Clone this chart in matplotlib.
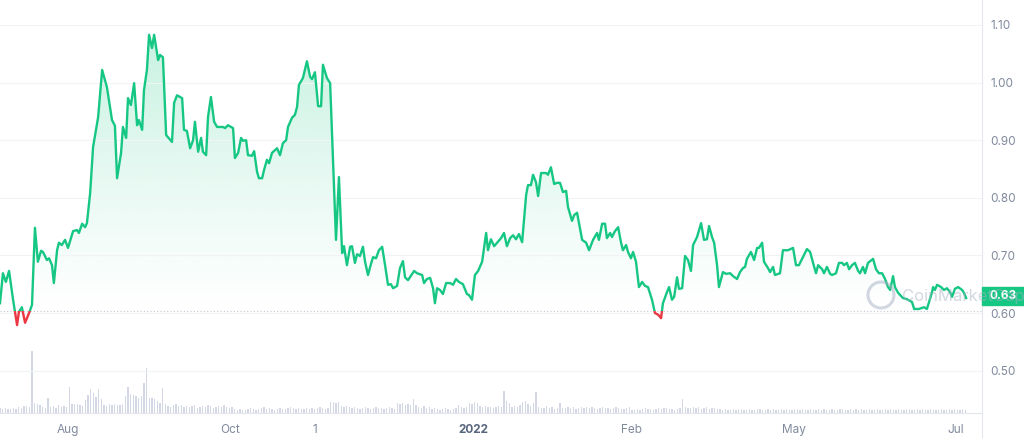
import numpy as np
import matplotlib.pyplot as plt
from matplotlib.patches import Rectangle, Ellipse
from matplotlib.lines import Line2D
from matplotlib.path import Path

plt.rcParams['font.family'] = ['Inter', 'DejaVu Sans']

# price trace (days since start of the 1y window, USD)
days = [0, 1.1, 2.2, 3.4, 4.9, 6.4, 7.1, 8.2, 9.4, 10.9, 12.0, 13.1, 14.2, 15.4, 16.1,
        17.6, 18.4, 19.5, 20.2, 21.4, 22.1, 23.2, 24.4, 25.5, 27.4, 28.9, 29.6, 30.8,
        31.9, 32.6, 33.8, 34.9, 36.8, 38.3, 40.1, 42.0, 43.1, 43.9, 45.4, 46.1, 47.3,
        48.0, 49.1, 50.3, 51.4, 52.1, 53.3, 54.0, 55.1, 55.9, 57.0, 57.8, 59.3, 60.0,
        61.1, 62.3, 64.5, 65.3, 66.4, 68.3, 69.0, 70.1, 71.3, 72.4, 73.1, 74.3, 75.4,
        76.1, 77.3, 78.0, 79.1, 80.3, 81.4, 83.6, 84.4, 85.5, 87.4, 88.1, 89.3, 90.4,
        91.1, 92.3, 93.0, 94.5, 95.3, 96.4, 97.1, 98.3, 99.0, 100.1, 100.9, 102.0,
        103.9, 105.0, 106.1, 107.3, 108.0, 109.5, 110.6, 111.4, 112.1, 113.6, 115.1,
        116.3, 117.0, 118.1, 119.3, 120.4, 121.1, 122.6, 123.8, 126.0, 127.1, 128.3,
        129.0, 130.1, 131.3, 132.0, 133.1, 133.9, 135.0, 136.1, 136.9, 138.0, 139.1,
        139.9, 141.0, 142.1, 143.3, 144.4, 145.5, 146.6, 147.4, 148.9, 150.0, 151.1,
        151.9, 153.0, 155.3, 156.4, 158.3, 159.0, 160.1, 161.3, 162.4, 163.1, 163.9,
        165.0, 166.1, 167.3, 168.8, 169.9, 171.0, 172.1, 173.6, 175.1, 175.9, 177.0,
        178.1, 179.3, 180.8, 182.3, 183.0, 184.1, 185.3, 186.4, 187.9, 189.0, 190.1,
        191.3, 192.4, 193.5, 194.6, 195.8, 197.3, 198.0, 199.1, 199.9, 201.0, 201.8,
        202.9, 204.8, 205.5, 206.6, 207.8, 208.9, 210.0, 211.1, 212.3, 213.0, 214.5,
        215.3, 216.4, 218.3, 219.8, 220.9, 222.4, 223.9, 224.6, 225.8, 226.9, 227.6,
        228.8, 229.5, 230.6, 231.8, 232.9, 233.6, 234.8, 235.5, 236.6, 237.4, 238.5,
        239.6, 240.8, 241.9, 243.0, 244.5, 245.6, 246.8, 247.9, 248.6, 250.1, 250.9,
        252.0, 252.8, 253.9, 254.6, 255.8, 256.9, 258.0, 259.1, 259.9, 261.4, 262.9,
        264.0, 265.1, 265.9, 267.0, 267.8, 268.9, 269.6, 271.1, 272.3, 273.8, 274.9,
        276.4, 277.5, 278.6, 279.4, 280.1, 281.6, 282.8, 283.9, 284.6, 285.8, 286.5,
        288.0, 288.8, 289.9, 290.6, 292.5, 293.6, 295.5, 297.4, 298.5, 299.6, 301.1,
        302.6, 303.8, 304.9, 306.0, 306.8, 308.3, 309.0, 310.1, 311.3, 312.0, 313.5,
        314.6, 315.8, 316.5, 317.6, 318.4, 319.5, 320.6, 321.8, 322.5, 323.6, 324.4,
        325.5, 327.4, 328.5, 329.6, 330.8, 331.9, 333.0, 333.8, 334.9, 335.6, 336.8,
        338.6, 340.1, 342.0, 342.8, 344.6, 346.5, 347.6, 348.4, 349.5, 349.9, 350.6,
        351.4, 352.9, 354.0, 355.1, 356.3, 357.0, 358.1, 359.3, 360.8, 361.5, 362.3]

prices = [0.617, 0.669, 0.654, 0.673, 0.623, 0.579, 0.602, 0.610, 0.583, 0.600, 0.614,
          0.748, 0.689, 0.708, 0.706, 0.692, 0.695, 0.683, 0.652, 0.709, 0.722, 0.718,
          0.727, 0.713, 0.742, 0.744, 0.739, 0.755, 0.749, 0.756, 0.808, 0.888, 0.940,
          1.022, 0.992, 0.935, 0.925, 0.834, 0.878, 0.923, 0.904, 0.973, 0.961, 0.999,
          0.926, 0.935, 0.918, 0.987, 1.022, 1.083, 1.060, 1.083, 1.039, 1.048, 1.044,
          0.909, 0.897, 0.965, 0.978, 0.973, 0.918, 0.916, 0.886, 0.900, 0.932, 0.880,
          0.904, 0.880, 0.874, 0.940, 0.975, 0.932, 0.923, 0.923, 0.921, 0.926, 0.921,
          0.869, 0.878, 0.904, 0.899, 0.900, 0.874, 0.873, 0.881, 0.845, 0.834, 0.834,
          0.848, 0.866, 0.860, 0.878, 0.886, 0.874, 0.895, 0.900, 0.923, 0.939, 0.944,
          0.958, 0.996, 1.008, 1.037, 1.010, 1.006, 1.018, 0.959, 0.959, 1.031, 1.008,
          0.999, 0.727, 0.836, 0.704, 0.716, 0.683, 0.715, 0.716, 0.687, 0.702, 0.699,
          0.715, 0.689, 0.666, 0.685, 0.697, 0.695, 0.709, 0.715, 0.683, 0.649, 0.650,
          0.643, 0.647, 0.678, 0.690, 0.662, 0.657, 0.673, 0.669, 0.666, 0.652, 0.659,
          0.661, 0.643, 0.617, 0.643, 0.640, 0.633, 0.652, 0.652, 0.649, 0.659, 0.654,
          0.650, 0.633, 0.631, 0.623, 0.666, 0.673, 0.689, 0.739, 0.709, 0.728, 0.716,
          0.722, 0.730, 0.739, 0.716, 0.730, 0.735, 0.728, 0.737, 0.723, 0.805, 0.822,
          0.822, 0.840, 0.827, 0.803, 0.843, 0.843, 0.840, 0.853, 0.824, 0.826, 0.826,
          0.810, 0.812, 0.784, 0.760, 0.770, 0.774, 0.727, 0.722, 0.709, 0.727, 0.739,
          0.727, 0.755, 0.755, 0.730, 0.739, 0.732, 0.742, 0.749, 0.722, 0.709, 0.718,
          0.706, 0.695, 0.706, 0.689, 0.645, 0.654, 0.647, 0.645, 0.623, 0.600, 0.597,
          0.591, 0.617, 0.636, 0.645, 0.623, 0.628, 0.662, 0.642, 0.643, 0.699, 0.692,
          0.673, 0.718, 0.732, 0.756, 0.727, 0.728, 0.751, 0.732, 0.722, 0.683, 0.645,
          0.671, 0.668, 0.669, 0.664, 0.659, 0.671, 0.678, 0.680, 0.694, 0.706, 0.692,
          0.713, 0.713, 0.722, 0.689, 0.678, 0.671, 0.680, 0.666, 0.669, 0.709, 0.709,
          0.713, 0.683, 0.683, 0.697, 0.711, 0.706, 0.687, 0.669, 0.683, 0.676, 0.669,
          0.680, 0.668, 0.666, 0.669, 0.687, 0.687, 0.683, 0.687, 0.676, 0.683, 0.687,
          0.673, 0.669, 0.680, 0.669, 0.687, 0.694, 0.676, 0.669, 0.669, 0.659, 0.645,
          0.640, 0.664, 0.645, 0.635, 0.626, 0.624, 0.619, 0.607, 0.607, 0.610, 0.607,
          0.619, 0.636, 0.645, 0.640, 0.649, 0.645, 0.640, 0.643, 0.636, 0.628, 0.642,
          0.645, 0.640, 0.635, 0.626]

# daily volume bars (relative units, one per day)
volume = [5, 4, 5, 4, 4, 5, 4, 6, 5, 7, 7, 6, 62, 10, 9, 8, 6, 5, 15, 6, 7, 5, 8, 6, 7, 6,
          26, 9, 9, 9, 8, 7,
          13, 18, 24, 20, 16, 24, 14, 8, 7, 9, 8, 9, 8, 8, 9, 17, 26, 19, 18, 17, 15, 17,
          30, 45, 15, 15, 14, 12, 10, 25, 9,
          7, 6, 8, 9, 7, 8, 6, 7, 6, 7, 8, 5, 6, 7, 6, 8, 7, 5, 6, 7, 6, 8, 6, 5, 6,
          4, 3, 4, 3, 3, 4, 5, 4, 3, 4, 5, 6, 4, 5, 4, 3, 4, 5, 4, 4, 5, 6, 5, 4, 5, 4,
          4, 5, 4, 5, 4, 5, 6, 5, 4, 5,
          11, 11, 10, 11,
          7, 6, 7, 6, 5, 6, 5, 4, 5, 6, 5, 4, 5, 6, 5, 5, 4, 5, 6, 5, 4,
          10, 9, 10, 8, 9, 8, 14, 8,
          6, 5, 7, 5, 6, 4, 5, 4, 3, 4, 5, 4, 3, 4, 5, 8, 6, 5, 6,
          10, 9, 11, 10, 7, 6, 7, 6, 6, 5, 6, 7, 6, 22, 12, 10,
          6, 7, 6, 8, 11, 12, 9, 7, 10, 21,
          6, 5, 5, 7, 5, 6, 4, 5, 10, 5, 5, 6, 5, 6, 4, 5, 6, 5, 6, 5, 6, 5, 4, 5, 6, 5,
          5, 4, 5, 6, 5, 4, 4, 5, 6,
          3, 3, 4, 3, 4, 5, 4, 4, 3, 4, 5, 4, 5, 5, 4, 4, 3, 4, 5, 14,
          6, 5, 5, 6, 5, 6, 4, 5, 6, 4, 5, 5, 4, 4,
          3, 4, 3, 3, 4, 3, 4, 4, 3, 3, 4, 3, 3, 4, 4, 3, 3, 4, 3, 4, 3, 3, 4, 3, 4, 3,
          3, 4, 4, 3, 4, 3, 3, 4, 3, 3, 4, 3, 4, 3, 3, 4, 3, 3, 4, 4, 3, 3, 4, 3, 4, 3,
          4, 3, 3, 4, 3, 3, 4, 3, 3, 4, 3, 4, 3, 3, 4, 3, 3, 4, 4, 3, 3, 4, 3, 4, 3, 3,
          4, 3, 3, 3, 4, 3, 3, 4, 3, 4, 3, 3, 4, 3]

baseline = 0.6035       # opening price of the period (dotted line)
current_label = "0.63"

price_ticks = [0.50, 0.60, 0.70, 0.80, 0.90, 1.00, 1.10]
date_ticks = [25.5, 86.3, 118.1, 177.4, 237.0, 297.8, 358.5]
date_labels = ["Aug", "Oct", "1", "2022", "Feb", "May", "Jul"]

GREEN = '#16c784'
RED = '#ea3943'
GREY = '#808a9d'
LINE = '#e3e6ec'

W, H = 1024, 438
fig = plt.figure(figsize=(W / 100, H / 100), dpi=100)
rect = [0, 25 / H, 982 / W, 413 / H]
XMAX = 368.25

# volume underneath
vax = fig.add_axes(rect)
vax.bar(np.arange(len(volume)), volume, width=0.6, color='#d3d8e4', zorder=1)
vax.set_xlim(0, XMAX)
vax.set_ylim(0, max(volume) / 0.15)
vax.axis('off')

ax = fig.add_axes(rect)
ax.set_facecolor('none')
x = np.array(days)
y = np.array(prices)

# gradient fill between line and baseline
fb = ax.fill_between(x, y, baseline, color='none', lw=0)
clip = Path.make_compound_path(*fb.get_paths())
top = max(prices)
grad = np.zeros((256, 1, 4))
grad[:, 0, :3] = np.array([22, 199, 132]) / 255
grad[:, 0, 3] = np.linspace(0.0, 0.27, 256) ** 1.1
im = ax.imshow(grad, origin='lower', extent=[0, XMAX, baseline, top],
               aspect='auto', zorder=1, interpolation='bicubic')
im.set_clip_path(clip, transform=ax.transData)
gradr = np.zeros((64, 1, 4))
gradr[:, 0, :3] = np.array([234, 57, 67]) / 255
gradr[:, 0, 3] = np.linspace(0.15, 0.0, 64)
imr = ax.imshow(gradr, origin='lower', extent=[0, XMAX, min(prices), baseline],
                aspect='auto', zorder=1)
imr.set_clip_path(clip, transform=ax.transData)

# price line, green above / red below baseline
up, = ax.plot(x, y, color=GREEN, lw=1.7, zorder=3, solid_joinstyle='round')
dn, = ax.plot(x, y, color=RED, lw=1.7, zorder=3, solid_joinstyle='round')
up.set_clip_path(Rectangle((0, baseline), 1000, 5, transform=ax.transData))
dn.set_clip_path(Rectangle((0, 0), 1000, baseline, transform=ax.transData))

ax.axhline(baseline, color='#c3c8d2', ls=(0, (1, 2)), lw=0.8, zorder=2)

ax.set_xlim(0, XMAX)
ax.set_ylim(0.4264, 1.1434)

ax.set_yticks(price_ticks, [f"{v:.2f}" for v in price_ticks])
ax.yaxis.tick_right()
ax.grid(axis='y', color='#f1f3f6', lw=0.8, zorder=0)
ax.set_xticks(date_ticks, date_labels)
ax.tick_params(axis='both', length=0, colors=GREY, labelsize=8.5)
ax.tick_params(axis='y', pad=6)
ax.tick_params(axis='x', pad=8)
lbl = ax.get_xticklabels()[3]
lbl.set_fontweight('bold')
lbl.set_color('#58667e')

for s in ['top', 'left', 'right']:
    ax.spines[s].set_visible(False)
ax.spines['bottom'].set_color(LINE)
ax.spines['bottom'].set_linewidth(0.8)

# right price-axis divider spanning full height
fig.add_artist(Line2D([982 / W, 982 / W], [0, 1], color=LINE, lw=0.8,
                      transform=fig.transFigure))

# current price tag
fig.add_artist(Rectangle((982 / W, 1 - 305 / H), 42 / W, 18 / H,
                         color=GREEN, transform=fig.transFigure, zorder=5))
fig.text(1003 / W, 1 - 296 / H, current_label, color='white', fontsize=8.5,
         ha='center', va='center', fontweight='bold', zorder=6)

# watermark, drawn over the tag like the original
fig.add_artist(Ellipse((881 / W, 1 - 295 / H), 26 / W, 26 / H, fill=False,
                       ec='#a6b0c3', lw=2.2, alpha=0.5, transform=fig.transFigure, zorder=7))
fig.text(902 / W, 1 - 296 / H, "CoinMarketCap", color='#a6b0c3', fontsize=12,
         ha='left', va='center', alpha=0.5, zorder=7)

fig.savefig('out.png', dpi=100)
